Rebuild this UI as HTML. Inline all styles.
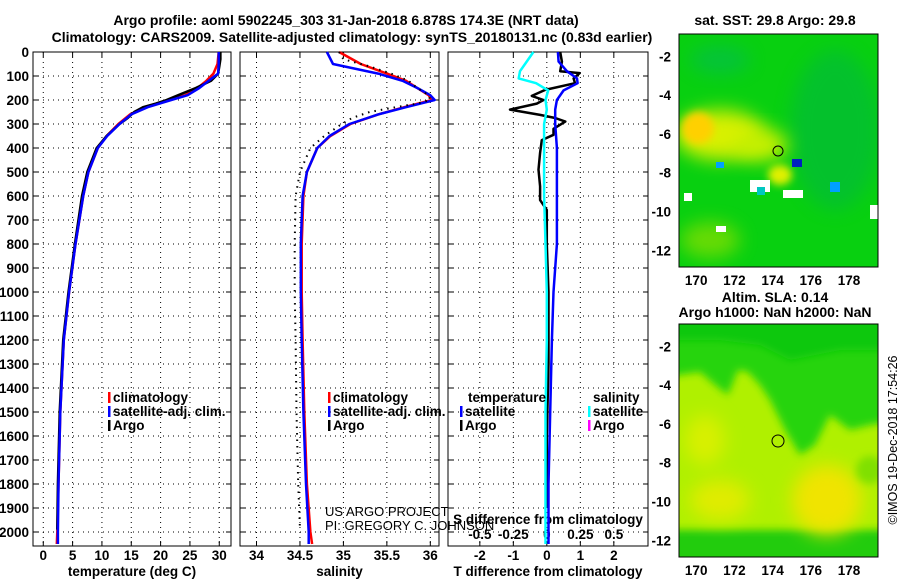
<!DOCTYPE html>
<html><head><meta charset="utf-8">
<style>
body{margin:0;background:#fff;}
svg{display:block;font-family:"Liberation Sans",Arial,sans-serif;}
.t{font-weight:bold;font-size:14px;}
.tk{font-weight:bold;font-size:13.5px;}
</style></head>
<body>
<svg id="c" width="900" height="580" viewBox="0 0 900 580">
<defs>
<filter id="bl" x="-50%" y="-50%" width="200%" height="200%"><feGaussianBlur stdDeviation="9"/></filter>
<filter id="bl2" x="-50%" y="-50%" width="200%" height="200%"><feGaussianBlur stdDeviation="4"/></filter>
<clipPath id="m1"><rect x="679" y="34" width="199" height="233"/></clipPath>
<clipPath id="m2"><rect x="679" y="324" width="199" height="233"/></clipPath>
</defs>
<text class="t" x="346" y="25" text-anchor="middle">Argo profile: aoml 5902245_303 31-Jan-2018 6.878S 174.3E (NRT data)</text>
<text class="t" x="352" y="42" text-anchor="middle">Climatology: CARS2009. Satellite-adjusted climatology: synTS_20180131.nc (0.83d earlier)</text>
<g id="g"></g>
<!-- SST map -->
<g clip-path="url(#m1)">
<rect x="679" y="34" width="199" height="233" fill="#08d010"/>
<ellipse cx="835" cy="130" rx="45" ry="80" fill="#00b050" opacity="0.45" filter="url(#bl)"/>
<ellipse cx="720" cy="135" rx="45" ry="25" fill="#d8f000" filter="url(#bl)"/>
<ellipse cx="698" cy="128" rx="16" ry="16" fill="#ffd000" filter="url(#bl2)"/>
<ellipse cx="760" cy="145" rx="28" ry="16" fill="#c8f000" filter="url(#bl)"/>
<ellipse cx="780" cy="175" rx="12" ry="10" fill="#e0f000" filter="url(#bl2)"/>
<ellipse cx="710" cy="240" rx="30" ry="18" fill="#90e000" opacity="0.7" filter="url(#bl)"/>
<ellipse cx="720" cy="60" rx="30" ry="14" fill="#00b078" opacity="0.4" filter="url(#bl)"/>
<rect x="750" y="180" width="20" height="12" fill="#fff"/>
<rect x="783" y="190" width="20" height="8" fill="#fff"/>
<rect x="757" y="187" width="8" height="8" fill="#00c8c0"/>
<rect x="792" y="159" width="10" height="8" fill="#0020c0"/>
<rect x="716" y="226" width="10" height="6" fill="#fff"/>
<rect x="684" y="193" width="8" height="8" fill="#fff"/>
<rect x="830" y="182" width="10" height="10" fill="#00a0ff"/>
<rect x="870" y="205" width="8" height="14" fill="#fff"/>
<rect x="716" y="162" width="8" height="6" fill="#00a0ff"/>
</g>
<rect x="679" y="34" width="199" height="233" fill="none" stroke="#000"/>
<circle cx="778" cy="151" r="5" fill="none" stroke="#000"/>
<text class="t" x="775" y="25" text-anchor="middle">sat. SST: 29.8 Argo: 29.8</text>
<!-- SLA map -->
<g clip-path="url(#m2)">
<rect x="679" y="324" width="199" height="233" fill="#b0f000"/>
<path d="M660 300 H900 V420 L870 425 L850 430 L830 415 L815 445 L800 455 L785 430 L770 400 L760 385 L748 372 L738 370 L728 395 L715 385 L700 372 L679 375 L660 380Z" fill="#28d410" filter="url(#bl2)"/>
<path d="M660 300 H900 V350 L840 350 L790 360 L760 345 L720 340 L660 340Z" fill="#10c810" filter="url(#bl2)"/>
<rect x="660" y="530" width="240" height="40" fill="#20cc10" filter="url(#bl2)"/>
<ellipse cx="827" cy="500" rx="35" ry="35" fill="#f0e400" filter="url(#bl)"/>
<ellipse cx="720" cy="500" rx="30" ry="20" fill="#e0ec00" filter="url(#bl)"/>
<ellipse cx="705" cy="440" rx="20" ry="25" fill="#d8f000" filter="url(#bl)"/>
<ellipse cx="870" cy="470" rx="14" ry="14" fill="#80e000" filter="url(#bl2)"/>
</g>
<rect x="679" y="324" width="199" height="233" fill="none" stroke="#000"/>
<circle cx="778" cy="441" r="6" fill="none" stroke="#000"/>
<text class="t" x="775" y="302" text-anchor="middle">Altim. SLA: 0.14</text>
<text class="t" x="775" y="317" text-anchor="middle">Argo h1000: NaN h2000: NaN</text>
<text x="897" y="440" font-size="12.5" text-anchor="middle" transform="rotate(-90 897 440)">©IMOS 19-Dec-2018 17:54:26</text>
<text x="325" y="516" font-size="13" font-weight="300">US ARGO PROJECT</text>
<text x="325" y="530" font-size="13" font-weight="300">PI: GREGORY C. JOHNSON</text>
</svg>
<script>
const NS='http://www.w3.org/2000/svg';
const svg=document.getElementById('g');
function mk(tag,at,txt){const e=document.createElementNS(NS,tag);for(const k in at)e.setAttribute(k,at[k]);if(txt!==undefined)e.textContent=txt;svg.appendChild(e);return e;}

// ---- data ----
const depthTicks=[0,100,200,300,400,500,600,700,800,900,1000,1100,1200,1300,1400,1500,1600,1700,1800,1900,2000];
const tempTicks=[0,5,10,15,20,25,30];
const salTicks=[34,34.5,35,35.5,36];
const salTickLabels=['34','34.5','35','35.5','36'];
const tdTicks=[-2,-1,0,1,2];
const sdTicks=[-0.5,-0.25,0,0.25,0.5];
const sdTickLabels=['-0.5','-0.25','0','0.25','0.5'];

const climDepth=[0,50,90,120,150,180,200,230,260,300,350,400,500,600,800,1000,1200,1500,1800,2000,2050];
const tempClim=[29.9,29.7,29.0,27.8,26.3,24.2,21.5,17.5,14.8,12.8,10.8,9.3,7.7,6.8,5.5,4.4,3.5,2.9,2.6,2.4,2.3];
const tempSat=[29.9,29.9,29.8,28.2,26.6,24.6,21.8,17.8,15.0,13.0,10.9,9.3,7.7,6.8,5.5,4.4,3.5,2.9,2.6,2.5,2.5];
const salClim=[34.95,35.2,35.5,35.72,35.85,35.98,36.02,35.7,35.4,35.08,34.85,34.7,34.58,34.54,34.52,34.52,34.53,34.55,34.58,34.62,34.64];
const salSat=[34.81,34.88,35.4,35.68,35.85,36.0,36.05,35.72,35.4,35.07,34.84,34.7,34.58,34.53,34.51,34.51,34.52,34.54,34.57,34.6,34.6];

const argoDepth=[0,30,60,90,120,150,180,200,215,230,250,275,300,350,400,500,600,800,1000,1200,1500,1800,1990];
const tempArgo=[30.2,30.2,30.0,29.8,28.6,26.0,23.0,21.0,19.2,17.0,15.5,14.4,13.0,10.8,9.1,7.5,6.6,5.4,4.3,3.4,2.8,2.5,2.4];
const salArgo=[34.95,35.0,35.3,35.55,35.75,35.85,35.98,36.0,35.85,35.6,35.3,35.1,34.98,34.78,34.62,34.5,34.45,34.44,34.44,34.45,34.46,34.48,34.5];

const dDepthSat=[0,40,80,110,130,160,200,240,300,400,600,800,1000,1200,1500,1800,2050];
const tDiffSat=[0.33,0.35,0.6,0.9,0.92,0.5,0.3,0.25,0.25,0.3,0.3,0.3,0.2,0.15,0.1,0.05,0.05];
const sDiffSat=[-0.1,-0.15,-0.2,-0.21,-0.08,0.01,-0.01,0.0,-0.02,-0.02,-0.02,-0.01,0.0,0.0,-0.01,-0.01,-0.01];
const dDepthArgo=[0,40,80,88,110,130,158,183,200,215,240,262,275,290,320,345,367,420,490,560,617,658,800,1000,1300,1600,1900];
const tDiffArgo=[0.4,0.45,0.4,0.98,0.8,0.84,-0.05,-0.45,-0.1,-0.3,-1.1,-0.2,0.25,0.55,0.2,0.2,-0.15,-0.2,-0.25,-0.2,-0.2,0.0,0.0,0.05,0.05,0.0,0.0];

// ---- axes ----
const Y0=52, PY=0.24, YB=546;
const yD=d=>Y0+d*PY;
const panels=[
 {x0:33,x1:231},
 {x0:240,x1:439},
 {x0:448,x1:648}
];
const xT=v=>33+(v+1.75)*(198/33.75);
const xS=v=>240+(v-33.81)*(199/2.29);
const xTD=v=>448+(v+2.95)*(200/5.97);
const xSD=v=>xTD(v*4);

function grid(p,xf,ticks,labels,title,name){
  const r=mk('rect',{x:p.x0,y:Y0,width:p.x1-p.x0,height:YB-Y0,fill:'#fff',stroke:'#000'});
  
  
  depthTicks.forEach(d=>{
    const l=mk('line',{x1:p.x0,x2:p.x1,y1:yD(d),y2:yD(d),stroke:'#000','stroke-dasharray':'1 4'});
    
    
    mk('line',{x1:p.x0,x2:p.x0+5,y1:yD(d),y2:yD(d),stroke:'#000'});
    mk('line',{x1:p.x1-5,x2:p.x1,y1:yD(d),y2:yD(d),stroke:'#000'});
  });
  ticks.forEach((v,i)=>{
    const x=xf(v);
    const l=mk('line',{x1:x,x2:x,y1:Y0,y2:YB,stroke:'#000','stroke-dasharray':'1 4'});
    
    
    mk('line',{x1:x,x2:x,y1:YB-5,y2:YB,stroke:'#000'});
    mk('line',{x1:x,x2:x,y1:Y0,y2:Y0+5,stroke:'#000'});
    const t=mk('text',{x:x,y:YB+14,'text-anchor':'middle',class:'tk'},labels[i]);
    
    
  });
  const tt=mk('text',{x:(p.x0+p.x1)/2,y:YB+30,'text-anchor':'middle',class:'tk'},title);
  
  
}
grid(panels[0],xT,tempTicks,tempTicks.map(String),'temperature (deg C)','temperature');
grid(panels[1],xS,salTicks,salTickLabels,'salinity','salinity');
grid(panels[2],xTD,tdTicks,tdTicks.map(String),'T difference from climatology','t-difference');
depthTicks.forEach(d=>{
  const t=mk('text',{x:29,y:yD(d)+5,'text-anchor':'end',class:'tk'},String(d));
  
  
});
sdTicks.forEach((v,i)=>{
  const t=mk('text',{x:xSD(v),y:539,'text-anchor':'middle',class:'tk'},sdTickLabels[i]);
  
  
});
const sdt=mk('text',{x:548,y:524,'text-anchor':'middle',class:'tk'},'S difference from climatology');



function line(xs,ds,xf,color,w,name,dash){
  const pts=xs.map((v,i)=>xf(v).toFixed(1)+','+yD(ds[i]).toFixed(1)).join(' ');
  const a={points:pts,fill:'none',stroke:color,'stroke-width':w,'stroke-linejoin':'round'};
  if(dash)a['stroke-dasharray']=dash;
  const e=mk('polyline',a);
  
  
}
line(tempClim,climDepth,xT,'#f00',2.5,'temperature-climatology-line');
line(tempArgo,argoDepth,xT,'#000',2.5,'temperature-argo-line');
line(tempSat,climDepth,xT,'#00f',2.5,'temperature-satellite-line');
line(salClim,climDepth,xS,'#f00',2.5,'salinity-climatology-line');
line(salSat,climDepth,xS,'#00f',2.5,'salinity-satellite-line');
line(salArgo,argoDepth,xS,'#000',2,'salinity-argo-line','1.5 5');
line(tDiffArgo,dDepthArgo,xTD,'#000',2.5,'t-difference-argo-line');
line(tDiffSat,dDepthSat,xTD,'#00f',2.5,'t-difference-satellite-line');
line(sDiffSat,dDepthSat,xSD,'#0ff',2.5,'s-difference-satellite-line');

function leg(x,y,color,label,name){
  mk('rect',{x:x,y:y-10,width:2.5,height:11,fill:color});
  const t=mk('text',{x:x+5,y:y,class:'tk'},label);
  
  
}
leg(108,402,'#f00','climatology','legend-climatology');
leg(108,416,'#00f','satellite-adj. clim.','legend-satellite');
leg(108,430,'#000','Argo','legend-argo');
leg(328,402,'#f00','climatology','legend-climatology-2');
leg(328,416,'#00f','satellite-adj. clim.','legend-satellite-2');
leg(328,430,'#000','Argo','legend-argo-2');
const lt=mk('text',{x:468,y:402,class:'tk'},'temperature');


const ls=mk('text',{x:593,y:402,class:'tk'},'salinity');


leg(460,416,'#00f','satellite','legend-t-satellite');
leg(460,430,'#000','Argo','legend-t-argo');
leg(588,416,'#0ff','satellite','legend-s-satellite');
leg(588,430,'#f0f','Argo','legend-s-argo');

// map ticks
const lonTicks=[170,172,174,176,178];
const latTicks=[-2,-4,-6,-8,-10,-12];
const xLon=v=>679+(v-169.1)*19.1;
const yLat=(v,top)=>top+(-0.85-v)*19.4;
[34,324].forEach((top,k)=>{
  lonTicks.forEach(v=>{
    mk('line',{x1:xLon(v),x2:xLon(v),y1:top+233,y2:top+228,stroke:'#000'});
    mk('line',{x1:xLon(v),x2:xLon(v),y1:top,y2:top+5,stroke:'#000'});
    const t=mk('text',{x:xLon(v),y:top+251,'text-anchor':'middle',class:'tk'},String(v));
    
    
  });
  latTicks.forEach(v=>{
    mk('line',{x1:679,x2:684,y1:yLat(v,top),y2:yLat(v,top),stroke:'#000'});
    mk('line',{x1:873,x2:878,y1:yLat(v,top),y2:yLat(v,top),stroke:'#000'});
    const t=mk('text',{x:671,y:yLat(v,top)+5,'text-anchor':'end',class:'tk'},String(v));
    
    
  });
});
</script>
</body></html>
